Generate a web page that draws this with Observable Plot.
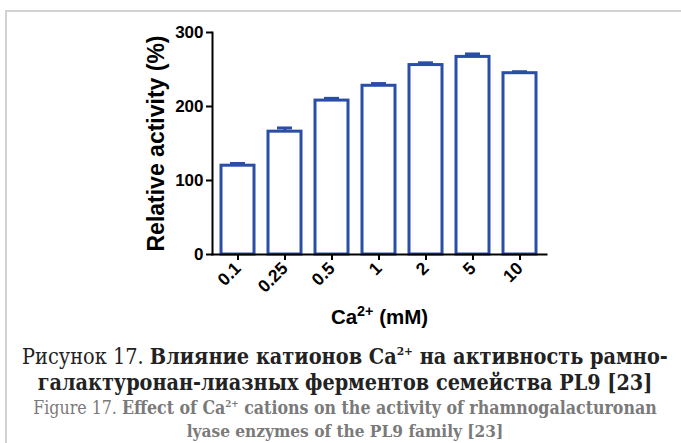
<!DOCTYPE html>
<html>
<head>
<meta charset="utf-8">
<script src="https://cdn.jsdelivr.net/npm/d3@7"></script>
<script src="https://cdn.jsdelivr.net/npm/@observablehq/plot@0.6"></script>
<style>
  html, body { margin: 0; padding: 0; background: #fff; }
  #page { position: relative; width: 681px; height: 443px; overflow: hidden; background: #fff; }
  #border { position: absolute; left: 5px; top: 10px; right: -10px; bottom: -10px;
            border-top: 2px solid #d2d2d2; border-left: 2px solid #d2d2d2; }
  #chart { position: absolute; left: 0; top: 0; }
  .cap { position: absolute; left: 345px; transform: translateX(-50%); white-space: nowrap;
         font-family: "DejaVu Serif Condensed", "DejaVu Serif", serif; line-height: 1; }
  .cap sup { font-size: 0.55em; vertical-align: 0.75em; line-height: 0; }
  .ru { color: #222; font-size: 19px; }
  .en { color: #7a7a7a; font-size: 14px; }
  b { font-weight: bold; }
</style>
</head>
<body>
<div id="page">
  <div id="border"></div>
  <div id="chart"></div>
  <div class="cap ru" id="l1" data-w="646" data-base="363">Рисунок 17. <b>Влияние катионов Ca<sup>2+</sup> на активность рамно-</b></div>
  <div class="cap ru" id="l2" data-w="615" data-base="389"><b>галактуронан-лиазных ферментов семейства PL9 [23]</b></div>
  <div class="cap en" id="l3" data-w="624" data-base="413">Figure 17. <b>Effect of Ca<sup>2+</sup> cations on the activity of rhamnogalacturonan</b></div>
  <div class="cap en" id="l4" data-w="317" data-base="437"><b>lyase enzymes of the PL9 family [23]</b></div>
</div>
<script>
const concentrations = ["0.1", "0.25", "0.5", "1", "2", "5", "10"];
const activity = [120, 166, 208, 228, 256, 267, 245];
const errors = [3, 5, 3, 3, 3, 4, 2];
const yTicks = [0, 100, 200, 300];
const xTitle = "Ca2+ (mM)";
const yTitle = "Relative activity (%)";

const blue = "#2a4ea6";
const data = concentrations.map((c, i) => ({c, v: activity[i], top: activity[i] + errors[i]}));

const chart = Plot.plot({
  width: 681,
  height: 340,
  marginTop: 32,
  marginBottom: 86,
  marginLeft: 212,
  marginRight: 135,
  style: {fontFamily: "'Liberation Sans', Arial, sans-serif", fontWeight: "bold", color: "#000", background: "transparent"},
  x: {domain: concentrations, paddingInner: 0.29, paddingOuter: 0.15, label: null},
  y: {domain: [0, 300], ticks: yTicks, label: null},
  marks: [
    Plot.barY(data, {x: "c", y: "v", fill: "white", stroke: blue, strokeWidth: 3}),
    Plot.ruleX(data, {x: "c", y1: "v", y2: "top", stroke: blue, strokeWidth: 3}),
    Plot.tickY(data, {x: "c", y: "top", stroke: blue, strokeWidth: 3, insetLeft: 9, insetRight: 9}),
    Plot.frame({anchor: "left", stroke: "#000", strokeWidth: 2}),
    Plot.frame({anchor: "bottom", stroke: "#000", strokeWidth: 2}),
    Plot.axisY({ticks: yTicks, tickSize: 6, tickPadding: 3, strokeWidth: 2, fontSize: 17, label: null}),
    Plot.axisX({tickSize: 6, tickPadding: 5, tickRotate: -45, strokeWidth: 2, fontSize: 17.5, label: null}),
    Plot.text([yTitle], {frameAnchor: "left", textAnchor: "middle", dx: -56, rotate: -90, fontSize: 23, fontWeight: "bold"}),
    Plot.text([xTitle], {frameAnchor: "bottom", textAnchor: "middle", dy: 69, fontSize: 20.5, fontWeight: "bold"})
  ]
});
document.getElementById("chart").appendChild(chart);

// render the superscript of the x-axis title
d3.select(chart).selectAll("text").filter(function() { return this.textContent === xTitle; }).each(function() {
  const t = d3.select(this);
  t.text(null);
  t.append("tspan").text("Ca");
  t.append("tspan").attr("dy", "-8px").attr("font-size", "0.7em").text("2+");
  t.append("tspan").attr("dy", "8px").text(" (mM)");
});

function fit() {
  document.querySelectorAll(".cap").forEach(el => {
    const target = +el.dataset.w;
    const base = +el.dataset.base;
    let fs = parseFloat(getComputedStyle(el).fontSize);
    const w = el.getBoundingClientRect().width;
    fs = fs * target / w;
    el.style.fontSize = fs + "px";
    el.style.top = (base - 0.8 * fs) + "px";
  });
}
fit();
</script>
</body>
</html>
